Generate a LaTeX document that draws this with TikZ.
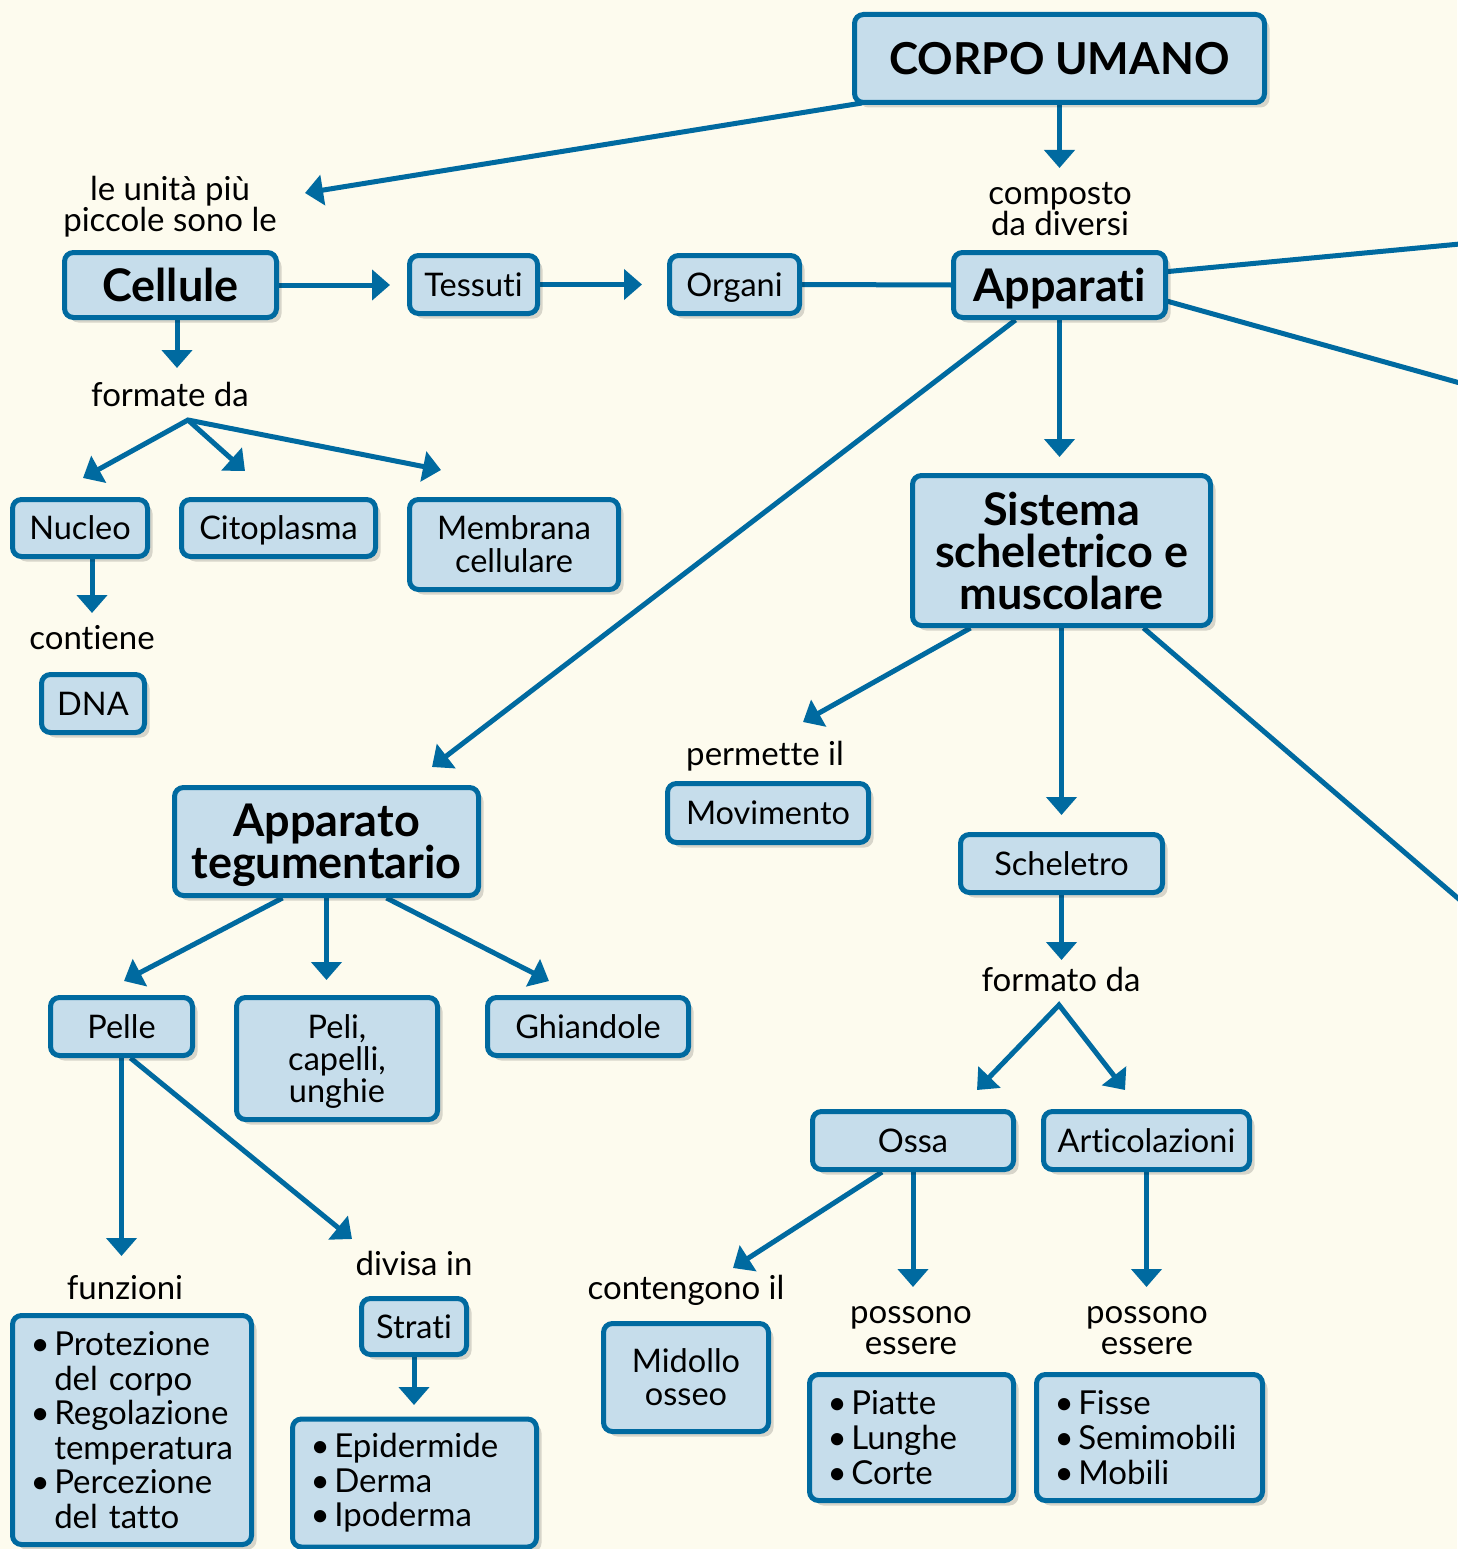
\documentclass[tikz,border=0pt]{standalone}
\usepackage{fontspec}
\setmainfont{Lato}[Ligatures=NoCommon]
\usetikzlibrary{arrows.meta,shadows,calc}
\definecolor{bgc}{RGB}{253,251,238}
\definecolor{bdc}{RGB}{0,106,160}
\definecolor{bxc}{RGB}{198,221,235}
\pgfdeclarelayer{bglayer}
\pgfdeclarelayer{linelayer}
\pgfsetlayers{bglayer,linelayer,main}
\newcommand\fN{\fontsize{32.5}{33}\selectfont}
\newcommand\fB{\fontsize{45}{42}\selectfont\bfseries}
\newcommand\fC{\fontsize{44}{44}\selectfont\bfseries}
\newcommand\fL{\fontsize{33}{31}\selectfont}
\newcommand\fBL{\fontsize{33}{34.6}\selectfont}
\newcommand\bul{\makebox[0.72em][l]{\textbullet}}
\newcommand\cnt{\hspace*{0.72em}}
\begin{document}
\begin{tikzpicture}[x=1pt,y=-1pt,
  box/.style={draw=bdc, fill=bxc, line width=5pt, rounded corners=9pt, align=center, inner sep=0pt, font=\fN,
     drop shadow={shadow xshift=5pt, shadow yshift=-5pt, opacity=0.15, fill=black}},
  one/.style={text height=23.4pt, text depth=0pt},
  oneB/.style={text height=32.4pt, text depth=0pt},
  oneC/.style={text height=31.7pt, text depth=0pt},
  multi/.style={text depth=0pt},
  lbl/.style={align=center, inner sep=0pt, font=\fL},
  conn/.style={draw=bdc, line width=5pt},
  arr/.style={conn, -{Triangle[width=30pt,length=18pt]}},
  darr/.style={conn, {Triangle[width=30pt,length=18pt]}-{Triangle[width=30pt,length=18pt]}},
]
\useasboundingbox (0,0) rectangle (1457,1549);
\begin{pgfonlayer}{bglayer}
\fill[bgc] (0,0) rectangle (1457,1549);
\end{pgfonlayer}

% boxes
\node[box, oneC, font=\fC, minimum width=410pt, minimum height=88pt] (corpo) at (1059.5,58.5) {CORPO UMANO};
\node[box, oneB, font=\fB, minimum width=212pt, minimum height=65pt] (cellule) at (170.5,285) {Cellule};
\node[box, one, minimum width=128pt, minimum height=58pt] (tessuti) at (473.5,284.5) {Tessuti};
\node[box, one, minimum width=130pt, minimum height=58pt] (organi) at (734.5,284.5) {Organi};
\node[box, oneB, font=\fB, minimum width=212pt, minimum height=65pt] (apparati) at (1059.5,285) {Apparati};
\node[box, one, minimum width=135pt, minimum height=57pt] (nucleo) at (80,528) {Nucleo};
\node[box, one, minimum width=194pt, minimum height=57pt] (citoplasma) at (278.5,528) {Citoplasma};
\node[box, multi, minimum width=209pt, minimum height=90pt] (membrana) at (514,544.5) {Membrana\\cellulare};
\node[box, one, minimum width=103pt, minimum height=58pt] (dna) at (93,703.5) {DNA};
\node[box, multi, font=\fB, minimum width=298pt, minimum height=150pt] (sistema) at (1061.5,550.5) {Sistema\\scheletrico e\\muscolare};
\node[box, multi, font=\fB, minimum width=304pt, minimum height=108pt] (teg) at (326.5,841.5) {Apparato\\tegumentario};
\node[box, one, minimum width=201pt, minimum height=59pt] (movimento) at (768,813) {Movimento};
\node[box, one, minimum width=202pt, minimum height=58pt] (scheletro) at (1061.5,863.5) {Scheletro};
\node[box, one, minimum width=142pt, minimum height=58pt] (pelle) at (121.5,1026.5) {Pelle};
\node[box, multi, font=\fontsize{32.5}{32}\selectfont, minimum width=201pt, minimum height=122pt] (peli) at (337,1058.5) {Peli,\\capelli,\\unghie};
\node[box, one, minimum width=201pt, minimum height=58pt] (ghiandole) at (588,1026.5) {Ghiandole};
\node[box, one, minimum width=201pt, minimum height=58pt] (ossa) at (913,1140.5) {Ossa};
\node[box, one, minimum width=206pt, minimum height=58pt] (artic) at (1146.5,1140.5) {Articolazioni};
\node[box, one, minimum width=105pt, minimum height=56pt] (strati) at (414,1326.5) {Strati};
\node[box, font=\fBL, align=left, text width=203pt, minimum width=239pt, minimum height=229pt] (funz) at (132,1430)
  {\bul Protezione\\\cnt del corpo\\\bul Regolazione\\\cnt temperatura\\\bul Percezione\\\cnt del tatto};
\node[box, font=\fBL, align=left, text width=208pt, minimum width=244pt, minimum height=128pt] (epi) at (414.5,1483)
  {\bul Epidermide\\\bul Derma\\\bul Ipoderma};
\node[box, multi, minimum width=165pt, minimum height=108pt] (midollo) at (686,1377.5) {Midollo\\osseo};
\node[box, font=\fBL, align=left, text width=168pt, minimum width=204pt, minimum height=126pt] (piatte) at (911.5,1437.5)
  {\bul Piatte\\\bul Lunghe\\\bul Corte};
\node[box, font=\fBL, align=left, text width=190pt, minimum width=226pt, minimum height=126pt] (fisse) at (1149.5,1437.5)
  {\bul Fisse\\\bul Semimobili\\\bul Mobili};

% labels
\node[lbl] (lunita) at (170,207) {le unità più\\piccole sono le};
\node[lbl] (lcomp) at (1060,209) {composto\\da diversi};
\node[lbl, anchor=base] (lformate) at (170,406) {formate da};
\node[lbl, anchor=base] (lcontiene) at (92,649) {contiene};
\node[lbl, anchor=base] (lpermette) at (765,765) {permette il};
\node[lbl, anchor=base] (lformato) at (1061,991) {formato da};
\node[lbl, anchor=base] (lfunz) at (125,1299) {funzioni};
\node[lbl, anchor=base] (ldivisa) at (414,1275) {divisa in};
\node[lbl, anchor=base] (lconten) at (686,1299) {contengono il};
\node[lbl] (lposs1) at (911,1331) {possono\\essere};
\node[lbl] (lposs2) at (1147,1331) {possono\\essere};

% tips and free ends
\coordinate (tCorpoL) at (305,193);
\coordinate (tCorpoD) at (1059.5,168);
\coordinate (tCell) at (390,285);
\coordinate (tTess) at (642,284.5);
\coordinate (eA) at (1460,244);
\coordinate (eB) at (1460,383);
\coordinate (eC) at (1460,900);
\coordinate (tAppD) at (1059.5,457);
\coordinate (tAppL) at (432,767);
\coordinate (tCellD) at (177,368);
\coordinate (apex1) at (188,420);
\coordinate (tF1) at (83,478);
\coordinate (tF2) at (245,471);
\coordinate (tF3) at (441,470);
\coordinate (tNuc) at (92,613);
\coordinate (tSisL) at (803,722);
\coordinate (tSisD) at (1061.5,815);
\coordinate (tSche) at (1061.5,960);
\coordinate (apex2) at (1059,1005);
\coordinate (tO1) at (977,1090);
\coordinate (tO2) at (1125,1090);
\coordinate (tTegL) at (124,981);
\coordinate (tTegD) at (326.5,980);
\coordinate (tTegR) at (549,981);
\coordinate (tPelD) at (121.5,1256);
\coordinate (tPelR) at (352,1239);
\coordinate (tStr) at (414,1405);
\coordinate (tOssL) at (733,1268);
\coordinate (tOssD) at (913,1287);
\coordinate (tArt) at (1146.5,1287);

\begin{pgfonlayer}{linelayer}
\draw[arr] ($(corpo.south west)+(10,-2)$) -- (tCorpoL);
\draw[arr] (corpo.south) -- (tCorpoD);
\draw[arr] (cellule.east) -- (tCell);
\draw[arr] (tessuti.east) -- (tTess);
\draw[conn] (organi.east) -- (apparati.west);
\draw[conn] ($(apparati.east)+(-5,-13)$) -- (eA);
\draw[conn] ($(apparati.east)+(-5,15)$) -- (eB);
\draw[arr] (apparati.south) -- (tAppD);
\draw[arr] ($(apparati.south)+(-44,0)$) -- (tAppL);
\draw[arr] ($(cellule.south)+(6.5,0)$) -- (tCellD);
\draw[darr] (tF1) -- (apex1) -- (tF3);
\draw[arr] (apex1) -- (tF2);
\draw[arr] ($(nucleo.south)+(12,0)$) -- (tNuc);
\draw[arr] ($(sistema.south)+(-91,0)$) -- (tSisL);
\draw[arr] (sistema.south) -- (tSisD);
\draw[conn] ($(sistema.south)+(82,0)$) -- (eC);
\draw[arr] (scheletro.south) -- (tSche);
\draw[darr] (tO1) -- (apex2) -- (tO2);
\draw[arr] ($(teg.south)+(-44,0)$) -- (tTegL);
\draw[arr] (teg.south) -- (tTegD);
\draw[arr] ($(teg.south)+(60,0)$) -- (tTegR);
\draw[arr] (pelle.south) -- (tPelD);
\draw[arr] ($(pelle.south)+(9,0)$) -- (tPelR);
\draw[arr] (strati.south) -- (tStr);
\draw[arr] ($(ossa.south)+(-31,0)$) -- (tOssL);
\draw[arr] (ossa.south) -- (tOssD);
\draw[arr] (artic.south) -- (tArt);
\end{pgfonlayer}
\end{tikzpicture}
\end{document}
